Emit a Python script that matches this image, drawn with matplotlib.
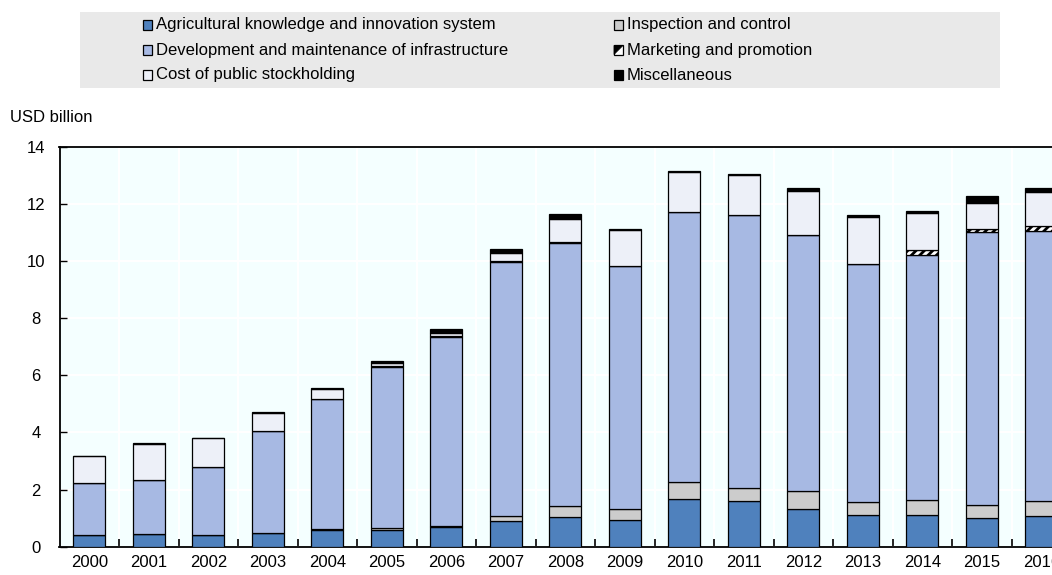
import matplotlib
matplotlib.use("Agg")
import matplotlib.pyplot as plt
from matplotlib.patches import Rectangle, Polygon
import numpy as np

plt.rcParams['font.family'] = ['Liberation Sans', 'DejaVu Sans']
plt.rcParams['hatch.linewidth'] = 2.0

years = [str(y) for y in range(2000, 2017)]
akis = [0.40, 0.43, 0.42, 0.47, 0.57, 0.58, 0.68, 0.90, 1.05, 0.92, 1.66, 1.60, 1.31, 1.11, 1.10, 0.99, 1.06]
inspection = [0.00, 0.00, 0.00, 0.00, 0.06, 0.06, 0.05, 0.16, 0.37, 0.41, 0.62, 0.45, 0.64, 0.44, 0.52, 0.48, 0.54]
infrastructure = [1.82, 1.92, 2.38, 3.58, 4.53, 5.66, 6.61, 8.89, 9.20, 8.51, 9.43, 9.57, 8.96, 8.35, 8.58, 9.53, 9.45]
marketing = [0.00, 0.00, 0.00, 0.00, 0.00, 0.02, 0.02, 0.05, 0.05, 0.00, 0.00, 0.00, 0.00, 0.00, 0.19, 0.13, 0.18]
stockholding = [0.94, 1.25, 0.99, 0.63, 0.36, 0.10, 0.13, 0.27, 0.80, 1.26, 1.39, 1.38, 1.53, 1.63, 1.28, 0.91, 1.19]
misc = [0.00, 0.02, 0.02, 0.05, 0.05, 0.08, 0.12, 0.15, 0.18, 0.02, 0.05, 0.06, 0.13, 0.08, 0.08, 0.22, 0.12]

series_labels = ["Agricultural knowledge and innovation system",
                 "Inspection and control",
                 "Development and maintenance of infrastructure",
                 "Marketing and promotion",
                 "Cost of public stockholding",
                 "Miscellaneous"]
yticks = [0, 2, 4, 6, 8, 10, 12, 14]

c_akis = "#4F81BD"
c_insp = "#CCCCCC"
c_infra = "#A7B9E3"
c_mkt = "#FFFFFF"
c_stock = "#EDF0F8"
c_misc = "#000000"

FS = 12
W, H = 1052, 575
fig = plt.figure(figsize=(W / 100, H / 100), dpi=100)

left_px, top_px, bot_px = 59.5, 146.7, 546.7
n = len(years)
cat_px = 59.5
ax = fig.add_axes([left_px / W, (H - bot_px) / H, cat_px * n / W, (bot_px - top_px) / H])
ax.set_facecolor("#F4FFFF")

x = np.arange(n)
bw = 0.54
stack = [
    (akis, c_akis, None),
    (inspection, c_insp, None),
    (infrastructure, c_infra, None),
    (marketing, c_mkt, "////"),
    (stockholding, c_stock, None),
    (misc, c_misc, None),
]
bottom = np.zeros(n)
for vals, col, hatch in stack:
    v = np.array(vals)
    ax.bar(x, v, bw, bottom=bottom, color=col, edgecolor="black", linewidth=0.9,
           hatch=hatch, zorder=3)
    bottom += v

ax.set_xlim(-0.5, n - 0.5)
ax.set_ylim(0, 14)
ax.set_yticks(yticks)
ax.set_yticklabels([str(t) for t in yticks], fontsize=FS)
ax.set_xticks(x)
ax.set_xticklabels(years, fontsize=FS)
ax.tick_params(axis="x", which="major", length=0, pad=6)
ax.set_xticks(np.arange(-0.5, n, 1.0)[1:], minor=True)
ax.tick_params(axis="x", which="minor", direction="in", length=6, width=1.2, color="black")
ax.tick_params(axis="y", direction="in", length=5, width=1.0, pad=17, color="black")
for t in ax.get_yticklabels():
    t.set_horizontalalignment("center")

ax.grid(axis="y", color="white", linewidth=1.5, zorder=0)
ax.grid(axis="x", which="minor", color="white", linewidth=1.5, zorder=0)
ax.set_axisbelow(True)
for s in ["left", "bottom", "top"]:
    ax.spines[s].set_color("black")
    ax.spines[s].set_linewidth(1.3)
ax.spines["right"].set_visible(False)

fig.text(10 / W, 1 - 117 / H, "USD billion", fontsize=FS, va="center", ha="left")

# legend band
fig.patches.append(Rectangle((80 / W, 1 - 88 / H), 920 / W, 76 / H, transform=fig.transFigure,
                             facecolor="#E9E9E9", edgecolor="none", zorder=0))
leg_items = [
    (0, 0, c_akis, None, series_labels[0]),
    (0, 1, c_infra, None, series_labels[2]),
    (0, 2, c_stock, None, series_labels[4]),
    (1, 0, c_insp, None, series_labels[1]),
    (1, 1, c_mkt, "mkt", series_labels[3]),
    (1, 2, c_misc, None, series_labels[5]),
]
col_x = [143, 614]
row_y = [25, 50, 75]
sq = 9
for col, row, color, kind, label in leg_items:
    mx = col_x[col]
    my = row_y[row]
    r = Rectangle((mx / W, 1 - (my + sq / 2) / H), sq / W, sq / H, transform=fig.transFigure,
                  facecolor=color, edgecolor="black", linewidth=0.9, zorder=2)
    fig.patches.append(r)
    if kind == "mkt":
        tri = Polygon([(mx / W, 1 - (my + sq / 2) / H), ((mx + sq) / W, 1 - (my - sq / 2) / H),
                       (mx / W, 1 - (my - sq / 2) / H)], closed=True, transform=fig.transFigure,
                      facecolor="black", edgecolor="black", linewidth=0.5, zorder=3)
        fig.patches.append(tri)
    fig.text((mx + sq + 4) / W, 1 - my / H, label, fontsize=FS, va="center", ha="left")

fig.savefig("out.png", dpi=100)
